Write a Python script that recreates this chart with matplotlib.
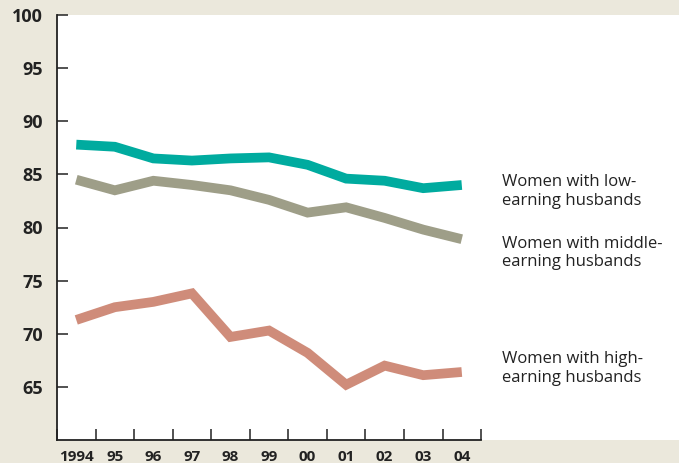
import matplotlib.pyplot as plt
import numpy as np

years = ["1994", "95", "96", "97", "98", "99", "00", "01", "02", "03", "04"]
low = [87.8, 87.6, 86.5, 86.3, 86.5, 86.6, 85.9, 84.6, 84.4, 83.7, 84.0]
middle = [84.5, 83.5, 84.4, 84.0, 83.5, 82.6, 81.4, 81.9, 80.9, 79.8, 78.9]
high = [71.3, 72.5, 73.0, 73.8, 69.7, 70.3, 68.2, 65.2, 67.0, 66.1, 66.4]
labels = ["Women with low-\nearning husbands",
          "Women with middle-\nearning husbands",
          "Women with high-\nearning husbands"]
label_y = [83.4, 77.6, 66.7]

bg = "#ebe8dc"
colors = ["#00ab9f", "#9e9e88", "#cf8c7a"]

plt.rcParams['font.family'] = ['Open Sans', 'DejaVu Sans']

fig = plt.figure(figsize=(6.79, 4.63), dpi=100)
fig.patch.set_facecolor(bg)
ax = fig.add_axes([57/679, 23/463, 622/679, 425/463])
ax.set_facecolor("white")

x = np.arange(len(years)) + 0.5
for vals, c in zip([low, middle, high], colors):
    ax.plot(x, vals, color=c, lw=7, solid_joinstyle='miter', solid_capstyle='butt')

for txt, yy in zip(labels, label_y):
    ax.text(11.55, yy, txt, fontsize=12, color="#222222", va='center', ha='left',
            linespacing=1.25)

ax.set_xlim(0, 622/38.55)
ax.set_ylim(60, 100)

for s in ['top', 'right']:
    ax.spines[s].set_visible(False)
for s in ['left', 'bottom']:
    ax.spines[s].set_color("#222222")
    ax.spines[s].set_linewidth(1.3)
ax.spines['bottom'].set_bounds(0, 11)

ax.set_yticks(range(65, 101, 5))
ax.tick_params(axis='y', direction='in', length=8, width=1.1, color="#222222",
               pad=10, labelsize=13)
for t in ax.get_yticklabels():
    t.set_fontweight('bold')
    t.set_color("#222222")

ax.set_xticks(range(0, 12))
ax.set_xticklabels([])
ax.tick_params(axis='x', which='major', direction='in', length=8, width=1.1, color="#222222")
ax.set_xticks(x, minor=True)
ax.set_xticklabels(years, minor=True, fontsize=11, fontweight='bold', color="#222222")
ax.tick_params(axis='x', which='minor', length=0, pad=7)

fig.savefig("out.png", dpi=100, facecolor=bg)
